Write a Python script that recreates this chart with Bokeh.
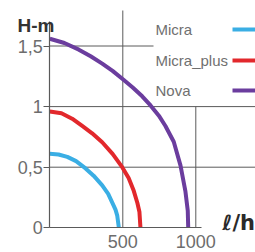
from bokeh.plotting import figure
from bokeh.models import FixedTicker, Range1d, Label
from bokeh.core.properties import value
from bokeh.embed import file_html
from bokeh.resources import INLINE

# ---- data ----
series_names = ["Micra", "Micra_plus", "Nova"]
series_colors = ["#3aaee4", "#e2282c", "#6b3d9e"]

micra_q = [0, 60, 120, 180, 245, 300, 359, 400, 427, 450, 462, 473]
micra_h = [0.61, 0.605, 0.585, 0.55, 0.49, 0.43, 0.35, 0.28, 0.21, 0.15, 0.10, 0.0]

micra_plus_q = [0, 80, 153, 222, 290, 359, 430, 496, 540, 575, 600, 614, 621]
micra_plus_h = [0.96, 0.945, 0.90, 0.84, 0.78, 0.706, 0.61, 0.50, 0.41, 0.305, 0.205, 0.13, 0.0]

nova_q = [0, 100, 199, 280, 359, 430, 507, 570, 633, 690, 747, 792, 849, 895, 929, 945, 948]
nova_h = [1.56, 1.525, 1.47, 1.415, 1.355, 1.295, 1.22, 1.155, 1.085, 1.01, 0.925, 0.84, 0.71, 0.515, 0.30, 0.14, 0.0]

y_ticks = [0, 0.5, 1, 1.5]
y_tick_labels = ["0", "0,5", "1", "1,5"]
x_ticks = [500, 1000]
x_tick_labels = ["500", "1000"]

# ---- layout (frame covers the whole figure; axes pinned at 0) ----
W, H = 255, 252
X0_PX, Y0_PX = 49.3, 227.3          # pixel position of the data origin
X_PER_PX = 500 / 73.0
Y_PER_PX = 0.5 / 60.6


def qx(px):
    """pixel x -> data x"""
    return (px - X0_PX) * X_PER_PX


def hy(py):
    """pixel y -> data y"""
    return (Y0_PX - py) * Y_PER_PX


x_start, x_end = qx(0), qx(W)
y_start, y_end = hy(H), hy(0)

p = figure(width=W, height=H, x_range=Range1d(x_start, x_end), y_range=Range1d(y_start, y_end),
           min_border=0, output_backend="svg", toolbar_location=None)
p.outline_line_color = None
p.grid.visible = False
p.background_fill_color = "white"
p.border_fill_color = "white"

AX = "#5a5a5a"
TICK_TXT = "#6d6d6d"

# y axis
ya = p.yaxis[0]
ya.fixed_location = 0
ya.ticker = FixedTicker(ticks=y_ticks)
ya.major_label_overrides = {t: l for t, l in zip(y_ticks, y_tick_labels)}
ya.bounds = (0, 1.7)
ya.axis_line_color = AX
ya.axis_line_width = 1.2
ya.major_tick_line_color = AX
ya.major_tick_out = 6
ya.major_tick_in = 0
ya.minor_tick_line_color = None
ya.major_label_standoff = 1
ya.major_label_text_font = "Liberation Sans"
ya.major_label_text_font_size = "18px"
ya.major_label_text_color = TICK_TXT

# x axis
xa = p.xaxis[0]
xa.fixed_location = 0
xa.ticker = FixedTicker(ticks=x_ticks)
xa.major_label_overrides = {t: l for t, l in zip(x_ticks, x_tick_labels)}
xa.bounds = (0, 1040)
xa.axis_line_color = AX
xa.axis_line_width = 1.2
xa.major_tick_line_color = None
xa.major_tick_out = 0
xa.major_tick_in = 0
xa.minor_tick_line_color = None
xa.major_label_standoff = 7
xa.major_label_text_font = "Liberation Sans"
xa.major_label_text_font_size = "18px"
xa.major_label_text_color = TICK_TXT

# grid lines (partial, as in the reference)
hg_y = y_ticks[1:]
hg_x1 = [x_end, x_end, qx(153)]
p.segment(x0=[0] * len(hg_y), y0=hg_y, x1=hg_x1, y1=hg_y, line_color=AX, line_width=1)
p.segment(x0=x_ticks, y0=[0, 0], x1=x_ticks, y1=[hy(10), 1.0], line_color=AX, line_width=1)

# curves
for q, h, c in [(micra_q, micra_h, series_colors[0]),
                (micra_plus_q, micra_plus_h, series_colors[1]),
                (nova_q, nova_h, series_colors[2])]:
    p.line(q, h, line_color=c, line_width=4, line_join="round")

# legend (label on the left, line sample on the right)
leg_y = [hy(29), hy(60), hy(90)]
p.text(x=[qx(155)] * 3, y=leg_y, text=series_names, text_font=value("Liberation Sans"),
       text_font_size="15px", text_color="#707070", text_baseline="middle", text_align="left")
p.segment(x0=[qx(232)] * 3, y0=leg_y, x1=[qx(260)] * 3, y1=leg_y,
          line_color=series_colors, line_width=4)

# axis titles
p.add_layout(Label(x=qx(17), y=hy(25), text="H-m", text_font="Liberation Sans",
                   text_font_style="bold", text_font_size="19px", text_color="#333333",
                   text_baseline="alphabetic", text_align="left"))
p.add_layout(Label(x=qx(222), y=hy(222), text="ℓ/h", text_font="DejaVu Sans",
                   text_font_style="bold", text_font_size="21px", text_color="#2a2a2a",
                   text_baseline="alphabetic", text_align="left"))

open("out.html", "w").write(file_html(p, INLINE))
